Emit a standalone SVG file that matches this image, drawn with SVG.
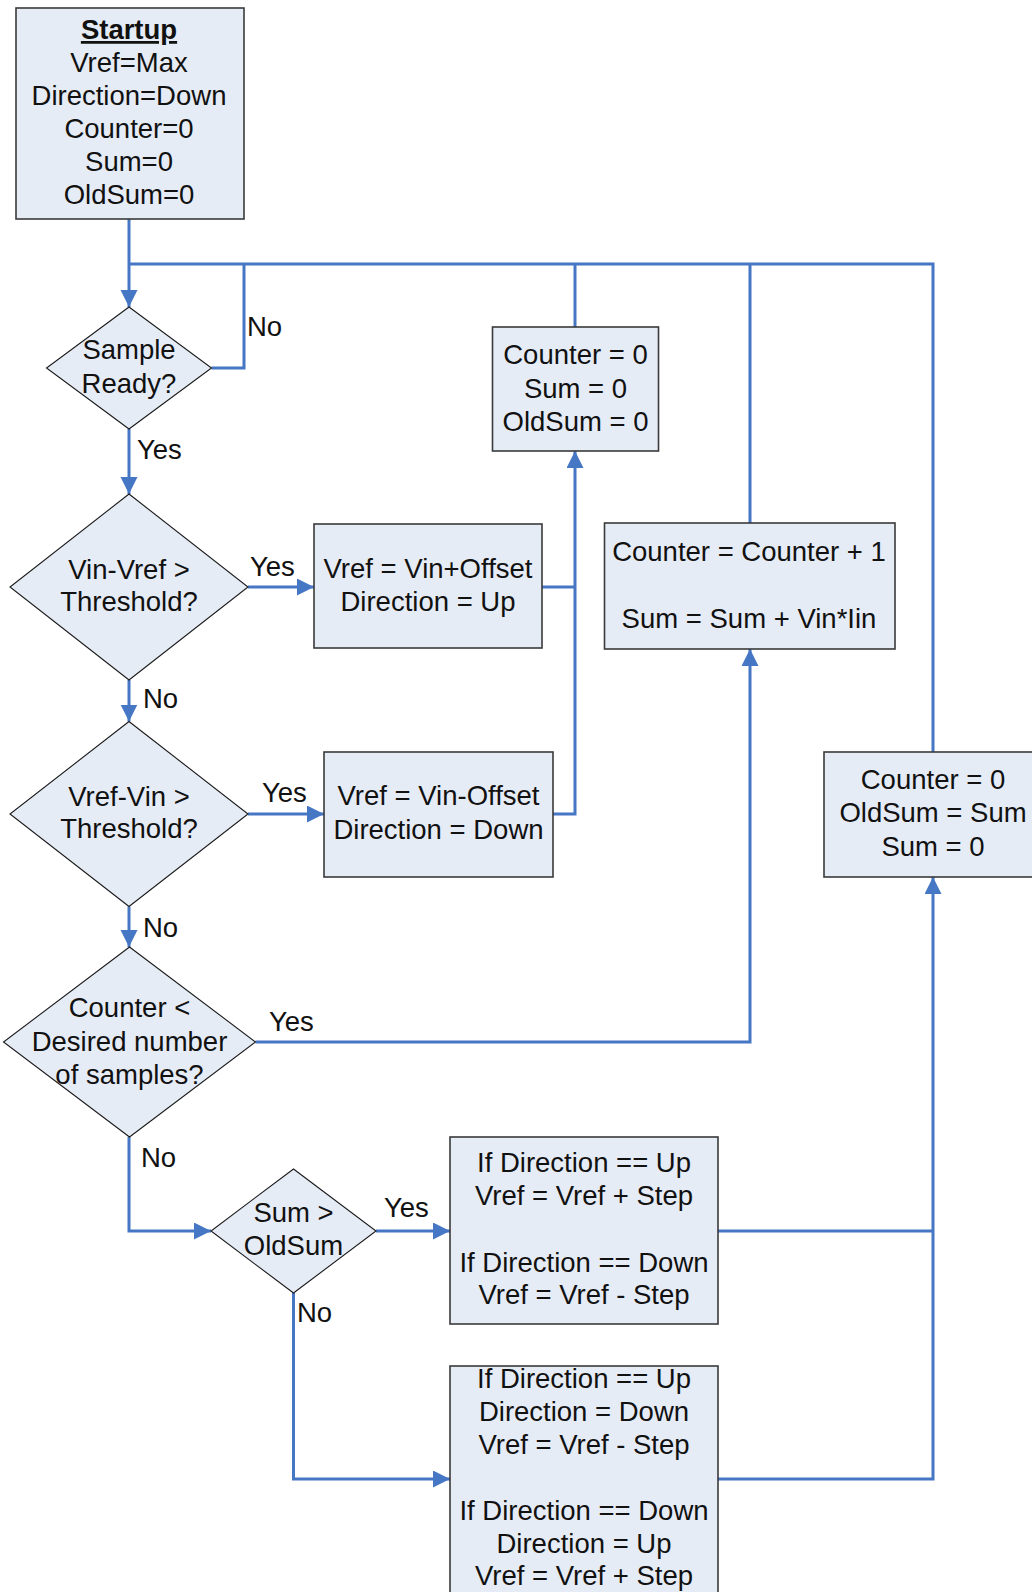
<svg xmlns="http://www.w3.org/2000/svg" width="1032" height="1592" viewBox="0 0 1032 1592">
  <style>
    .box { fill: #E6ECF6; stroke: #3a3a3a; stroke-width: 1.6; }
    .dia { fill: #E6ECF6; stroke: #1a1a1a; stroke-width: 1.1; }
    .t { font-family: "Liberation Sans", Arial, sans-serif; font-size: 27.5px; fill: #111; text-anchor: middle; }
    .lbl { font-family: "Liberation Sans", Arial, sans-serif; font-size: 27.5px; fill: #111; }
    .b { font-weight: bold; text-decoration: underline; }
    .c { fill: none; stroke: #4677C4; stroke-width: 3; }
    .a { marker-end: url(#arrow); }
  </style>
  <defs>
    <marker id="arrow" markerUnits="userSpaceOnUse" markerWidth="18" markerHeight="18" refX="17" refY="8.5" orient="auto">
      <path d="M0,0 L17,8.5 L0,17 z" fill="#4677C4"/>
    </marker>
  </defs>
  <rect width="1032" height="1592" fill="#ffffff"/>

  <!-- connectors -->
  <g id="connectors">
    <path class="c a" d="M129,219 V307"/>
    <path class="c" d="M129,264 H933 V752"/>
    <path class="c" d="M211.5,368 H244 V264"/>
    <path class="c" d="M575,327 V264"/>
    <path class="c" d="M750,523 V264"/>
    <path class="c a" d="M129,429 V494"/>
    <path class="c a" d="M248,587 H314"/>
    <path class="c" d="M542,587 H575"/>
    <path class="c a" d="M553,814 H575 V451"/>
    <path class="c a" d="M129,680 V721.5"/>
    <path class="c a" d="M248,814 H324"/>
    <path class="c a" d="M129,906.5 V947"/>
    <path class="c a" d="M255.5,1042 H750 V649"/>
    <path class="c a" d="M129,1137 V1231 H211"/>
    <path class="c a" d="M376,1231 H450"/>
    <path class="c a" d="M293.5,1293 V1479 H450"/>
    <path class="c" d="M718,1231 H933"/>
    <path class="c a" d="M718,1479 H933 V877"/>
  </g>

  <!-- branch labels -->
  <g id="labels">
    <text class="lbl" x="247" y="335.5">No</text>
    <text class="lbl" x="137" y="459">Yes</text>
    <text class="lbl" x="250" y="575.5">Yes</text>
    <text class="lbl" x="143" y="708">No</text>
    <text class="lbl" x="262" y="801.5">Yes</text>
    <text class="lbl" x="143" y="936.5">No</text>
    <text class="lbl" x="269" y="1031">Yes</text>
    <text class="lbl" x="141" y="1166.5">No</text>
    <text class="lbl" x="384" y="1216.5">Yes</text>
    <text class="lbl" x="297" y="1321.5">No</text>
  </g>

  <g id="startup">
    <rect class="box" x="16" y="8" width="228" height="211"/>
    <text class="t b" x="129" y="39">Startup</text>
    <text class="t" x="129" y="72">Vref=Max</text>
    <text class="t" x="129" y="104.5">Direction=Down</text>
    <text class="t" x="129" y="137.5">Counter=0</text>
    <text class="t" x="129" y="171">Sum=0</text>
    <text class="t" x="129" y="204">OldSum=0</text>
  </g>

  <g id="sample-ready">
    <polygon class="dia" points="129,307 211.5,368 129,429 46.5,368"/>
    <text class="t" x="129" y="359">Sample</text>
    <text class="t" x="129" y="392.5">Ready?</text>
  </g>

  <g id="vin-minus-vref">
    <polygon class="dia" points="129,494 248,587 129,680 10,587"/>
    <text class="t" x="129" y="578.5">Vin-Vref &gt;</text>
    <text class="t" x="129" y="611">Threshold?</text>
  </g>

  <g id="set-up">
    <rect class="box" x="314" y="524" width="228" height="124"/>
    <text class="t" x="428" y="578">Vref = Vin+Offset</text>
    <text class="t" x="428" y="611">Direction = Up</text>
  </g>

  <g id="vref-minus-vin">
    <polygon class="dia" points="129,721.5 248,814 129,906.5 10,814"/>
    <text class="t" x="129" y="805.5">Vref-Vin &gt;</text>
    <text class="t" x="129" y="838">Threshold?</text>
  </g>

  <g id="set-down">
    <rect class="box" x="324" y="752" width="229" height="125"/>
    <text class="t" x="438.5" y="805">Vref = Vin-Offset</text>
    <text class="t" x="438.5" y="838.5">Direction = Down</text>
  </g>

  <g id="reset-all">
    <rect class="box" x="492.5" y="327" width="166" height="124"/>
    <text class="t" x="575.5" y="364">Counter = 0</text>
    <text class="t" x="575.5" y="397.5">Sum = 0</text>
    <text class="t" x="575.5" y="430.5">OldSum = 0</text>
  </g>

  <g id="accumulate">
    <rect class="box" x="604.5" y="523" width="290.5" height="126"/>
    <text class="t" x="749" y="560.5">Counter = Counter + 1</text>
    <text class="t" x="749" y="627.5">Sum = Sum + Vin*Iin</text>
  </g>

  <g id="store-sum">
    <rect class="box" x="824" y="752" width="220" height="125"/>
    <text class="t" x="933" y="789">Counter = 0</text>
    <text class="t" x="933" y="822">OldSum = Sum</text>
    <text class="t" x="933" y="855.5">Sum = 0</text>
  </g>

  <g id="counter-check">
    <polygon class="dia" points="129.5,947 255.5,1042 129.5,1137 3.5,1042"/>
    <text class="t" x="129.5" y="1016.5">Counter &lt;</text>
    <text class="t" x="129.5" y="1050.5">Desired number</text>
    <text class="t" x="129.5" y="1083.5">of samples?</text>
  </g>

  <g id="sum-check">
    <polygon class="dia" points="293.5,1169 376,1231 293.5,1293 211,1231"/>
    <text class="t" x="293.5" y="1221.5">Sum &gt;</text>
    <text class="t" x="293.5" y="1255">OldSum</text>
  </g>

  <g id="step-same">
    <rect class="box" x="450" y="1137" width="268" height="187"/>
    <text class="t" x="584" y="1171.5">If Direction == Up</text>
    <text class="t" x="584" y="1205">Vref = Vref + Step</text>
    <text class="t" x="584" y="1271.5">If Direction == Down</text>
    <text class="t" x="584" y="1303.5">Vref = Vref - Step</text>
  </g>

  <g id="step-reverse">
    <rect class="box" x="450" y="1366" width="268" height="260"/>
    <text class="t" x="584" y="1387.5">If Direction == Up</text>
    <text class="t" x="584" y="1420.5">Direction = Down</text>
    <text class="t" x="584" y="1454">Vref = Vref - Step</text>
    <text class="t" x="584" y="1519.5">If Direction == Down</text>
    <text class="t" x="584" y="1552.5">Direction = Up</text>
    <text class="t" x="584" y="1585">Vref = Vref + Step</text>
  </g>
</svg>
